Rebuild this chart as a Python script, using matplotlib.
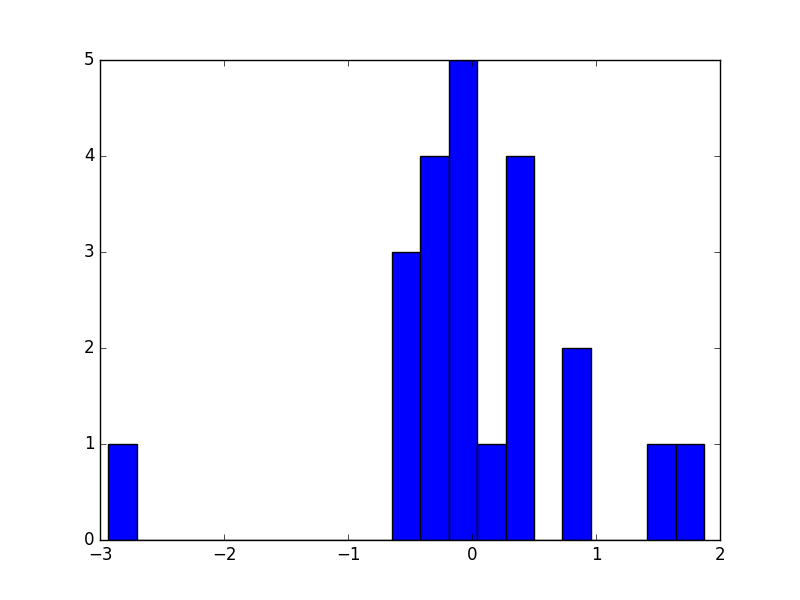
import matplotlib
matplotlib.use("Agg")
import matplotlib.pyplot as plt
import numpy as np

# histogram: 21 equal bins between these limits
bin_lo = -2.934
bin_hi = 1.873
counts = [1, 0, 0, 0, 0, 0, 0, 0, 0, 0, 3, 4, 5, 1, 4, 0, 2, 0, 0, 1, 1]

plt.style.use("classic")

edges = np.linspace(bin_lo, bin_hi, len(counts) + 1)
centers = (edges[:-1] + edges[1:]) / 2

fig, ax = plt.subplots(figsize=(8, 6), dpi=100)
ax.hist(centers, bins=edges, weights=counts)
ax.set_xlim(-3, 2)
ax.set_ylim(0, 5)

fig.savefig("out.png", dpi=100)
